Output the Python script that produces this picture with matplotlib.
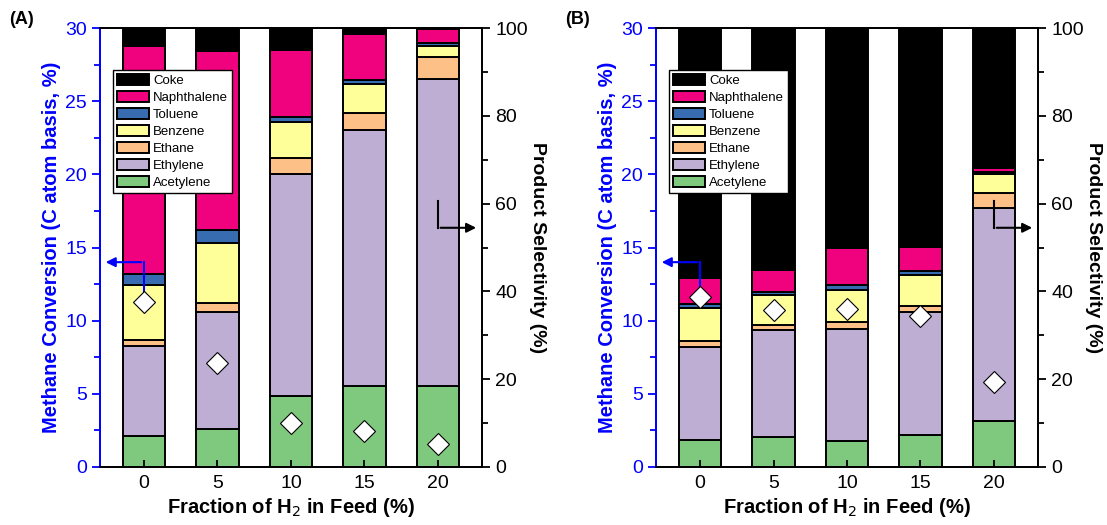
import matplotlib
matplotlib.use('Agg')
import matplotlib.pyplot as plt
from matplotlib.patches import Patch
from matplotlib.ticker import MultipleLocator
import numpy as np

plt.rcParams['font.family'] = ['Liberation Sans', 'DejaVu Sans']

h2_frac = [0, 5, 10, 15, 20]
species = ['Acetylene', 'Ethylene', 'Ethane', 'Benzene', 'Toluene', 'Naphthalene', 'Coke']
colors = ['#7fc97f', '#beaed4', '#fdc086', '#ffff99', '#386cb0', '#f0027f', '#000000']

# product selectivity (%), panel A
sel_a_acetylene = [7.0, 8.7, 16.2, 18.5, 18.5]
sel_a_ethylene = [20.5, 26.5, 50.6, 58.2, 70.0]
sel_a_ethane = [1.5, 2.2, 3.6, 4.0, 4.9]
sel_a_benzene = [12.5, 13.6, 8.1, 6.5, 2.6]
sel_a_toluene = [2.5, 3.1, 1.3, 0.9, 0.6]
sel_a_naphthalene = [52.0, 40.7, 15.3, 10.5, 3.3]
sel_a_coke = [4.0, 5.2, 4.9, 1.4, 0.1]
conv_a = [11.3, 7.1, 3.0, 2.45, 1.55]

# product selectivity (%), panel B
sel_b_acetylene = [6.2, 6.9, 6.0, 7.4, 10.5]
sel_b_ethylene = [21.2, 24.3, 25.4, 27.8, 48.6]
sel_b_ethane = [1.4, 1.2, 1.6, 1.5, 3.4]
sel_b_benzene = [7.5, 6.8, 7.3, 7.0, 4.2]
sel_b_toluene = [0.8, 0.7, 1.2, 0.9, 0.5]
sel_b_naphthalene = [5.9, 5.0, 8.3, 5.5, 1.0]
sel_b_coke = [57.0, 55.1, 50.2, 49.9, 31.8]
conv_b = [11.6, 10.7, 10.8, 10.3, 5.8]

sel_a = [sel_a_acetylene, sel_a_ethylene, sel_a_ethane, sel_a_benzene,
         sel_a_toluene, sel_a_naphthalene, sel_a_coke]
sel_b = [sel_b_acetylene, sel_b_ethylene, sel_b_ethane, sel_b_benzene,
         sel_b_toluene, sel_b_naphthalene, sel_b_coke]

fig = plt.figure(figsize=(11.07, 5.25), dpi=100)
blue = '#0000ff'


def panel(rect, sel, conv, tag):
    ax = fig.add_axes(rect)
    ax2 = ax.twinx()
    x = np.array(h2_frac, dtype=float)
    bottom = np.zeros(len(x))
    for vals, c in zip(sel, colors):
        ax2.bar(x, vals, width=2.9, bottom=bottom, color=c, edgecolor='black', linewidth=1.4)
        bottom += np.array(vals)
    ax2.set_ylim(0, 100)
    ax2.yaxis.set_major_locator(MultipleLocator(20))
    ax2.yaxis.set_minor_locator(MultipleLocator(10))
    ax2.tick_params(axis='y', which='major', direction='out', length=6, width=1.3, labelsize=14)
    ax2.tick_params(axis='y', which='minor', direction='out', length=4, width=1.3)
    ax2.set_ylabel('Product Selectivity (%)', rotation=-90, labelpad=13, fontsize=14,
                   fontweight='bold')

    ax.set_zorder(ax2.get_zorder() + 1)
    ax.patch.set_visible(False)
    ax.plot(x, conv, 'D', ms=11.5, mfc='white', mec='black', mew=0.8, zorder=5)
    ax.set_xlim(-3, 23)
    ax.set_ylim(0, 30)
    ax.set_xticks(h2_frac)
    ax.yaxis.set_major_locator(MultipleLocator(5))
    ax.yaxis.set_minor_locator(MultipleLocator(2.5))
    ax.tick_params(axis='x', direction='in', length=5, width=1.3, labelsize=14, pad=6)
    ax.tick_params(axis='y', which='major', direction='out', length=6, width=1.3,
                   colors=blue, labelsize=14)
    ax.tick_params(axis='y', which='minor', direction='out', length=4, width=1.3, colors=blue)
    ax.set_xlabel('Fraction of H$_2$ in Feed (%)', fontsize=14.5, fontweight='bold', labelpad=3)
    ax.set_ylabel('Methane Conversion (C atom basis, %)', fontsize=14.5, fontweight='bold',
                  color=blue, labelpad=3)
    for s in ax2.spines.values():
        s.set_linewidth(1.3)
    ax2.spines['left'].set_color(blue)
    ax.spines['left'].set_color(blue)
    for s in ax.spines.values():
        s.set_linewidth(1.3)

    # arrows pointing to the axis each series belongs to
    ax.plot([x[0], x[0]], [conv[0] + 0.6, 14.0], color=blue, lw=1.5)
    ax.annotate('', xy=(-2.8, 14.0), xytext=(x[0], 14.0),
                arrowprops=dict(arrowstyle='-|>', color=blue, lw=1.5, mutation_scale=14))
    ax2.plot([x[-1], x[-1]], [60.5, 54.5], color='black', lw=1.5)
    ax2.annotate('', xy=(22.8, 54.5), xytext=(x[-1], 54.5),
                 arrowprops=dict(arrowstyle='-|>', color='black', lw=1.5, mutation_scale=14))

    handles = [Patch(facecolor=c, edgecolor='black', linewidth=1.4, label=n)
               for n, c in zip(species, colors)][::-1]
    leg = ax2.legend(handles=handles, loc='upper left', bbox_to_anchor=(0.035, 0.905),
                     fontsize=9.5, frameon=True, fancybox=False, framealpha=1,
                     handlelength=2.4, handleheight=0.9, labelspacing=0.3,
                     handletextpad=0.3, borderpad=0.3, borderaxespad=0)
    leg.get_frame().set_edgecolor('black')
    leg.get_frame().set_linewidth(1.0)

    fig.text(rect[0] - 0.082, 0.963, tag, fontsize=13, fontweight='bold', va='center')
    return ax, ax2


panel([0.0903, 0.1105, 0.345, 0.836], sel_a, conv_a, '(A)')
panel([0.5926, 0.1105, 0.345, 0.836], sel_b, conv_b, '(B)')

fig.savefig('out.png', dpi=100)
